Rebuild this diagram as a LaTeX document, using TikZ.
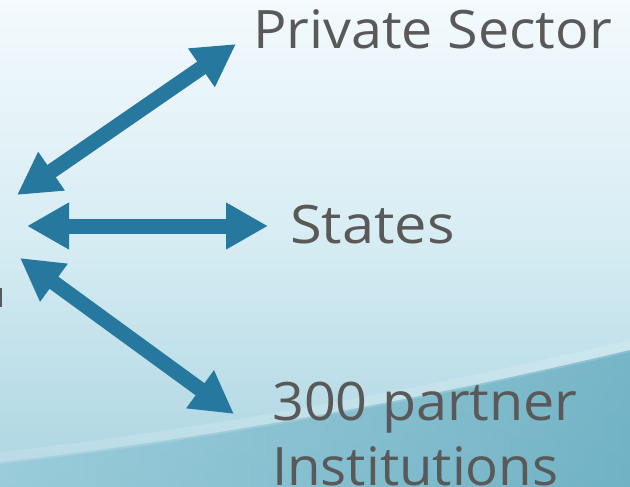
\documentclass[tikz,border=0pt]{standalone}
\usepackage{fontspec}
\setmainfont{Open Sans}
\usetikzlibrary{arrows.meta}
\definecolor{arrowblue}{HTML}{27789E}
\definecolor{textgray}{HTML}{595959}
\definecolor{bgtop}{HTML}{F4FAFD}
\definecolor{bgmid}{HTML}{D6ECF3}
\definecolor{bgbot}{HTML}{AAD4E0}
\definecolor{waveleft}{HTML}{94C9D8}
\definecolor{wavedark}{HTML}{5EA7BC}
\tikzset{
  dblarrow/.style={draw=arrowblue, line width=15pt,
    {Triangle[length=42pt,width=44pt]}-{Triangle[length=42pt,width=44pt]}},
  label/.style={text=textgray, font=\fontsize{53}{63}\selectfont, anchor=base west, inner sep=0pt}
}
\begin{document}
\begin{tikzpicture}[x=1pt,y=-1pt]
\useasboundingbox (0,0) rectangle (630,487);
% background
\shade[top color=bgtop, bottom color=bgbot, middle color=bgmid] (0,0) rectangle (630,487);
\begin{scope}
\clip (0,0) rectangle (630,487);
\shade[left color=waveleft, right color=wavedark, opacity=0.75]
  (0,487) -- (0,462) .. controls (200,440) and (420,400) .. (630,350) -- (630,487) -- cycle;
\fill[white, opacity=0.15]
  (0,452) .. controls (200,430) and (420,390) .. (630,340) -- (630,352) .. controls (420,402) and (200,442) .. (0,464) -- cycle;
\fill[textgray] (0,288) rectangle (2,307);
\end{scope}
% endpoints
\coordinate (hubA) at (17,195);
\coordinate (hubB) at (27,226);
\coordinate (hubC) at (20,258);
\coordinate (endA) at (236,44);
\coordinate (endB) at (268,226);
\coordinate (endC) at (234,414);
% labels
\node[label] (private) at (253,49) {\scalebox{1.05}[1]{Private Sector}};
\node[label] (states) at (290,243) {\scalebox{1.09}[1]{States}};
\node[label] (partner) at (272,420) {\scalebox{1.05}[1]{300 partner}};
\node[label] (inst) at (272,485) {\scalebox{1.03}[1]{Institutions}};
% arrows
\draw[dblarrow] (hubA) -- (endA);
\draw[dblarrow] (hubB) -- (endB);
\draw[dblarrow] (hubC) -- (endC);
\end{tikzpicture}
\end{document}
